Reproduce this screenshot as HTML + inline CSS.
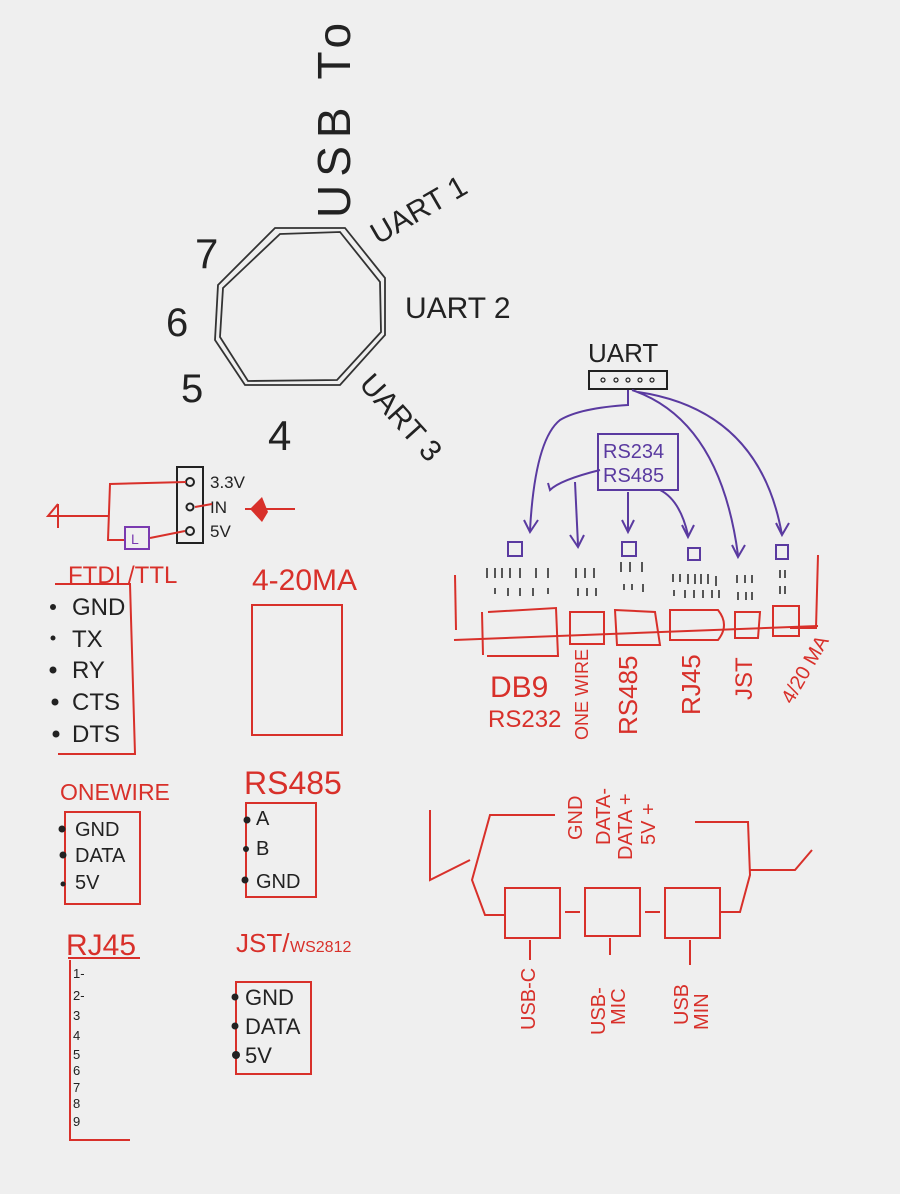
<!DOCTYPE html>
<html><head><meta charset="utf-8"><style>
html,body{margin:0;padding:0;background:#efefef;}
svg{display:block}
text{font-family:"Liberation Sans",sans-serif;}
.k{fill:#222}.r{fill:#d8302a}.p{fill:#5a3aa0}
</style></head><body>
<svg width="900" height="1194" viewBox="0 0 900 1194" xmlns="http://www.w3.org/2000/svg">
<rect width="900" height="1194" fill="#efefef"/>
<g fill="none" stroke="#333" stroke-width="1.8">
<polygon points="275,228 345,228 385,278 385,335 340,385 245,385 215,340 218,285"/>
<polygon points="280,234 340,232 380,282 381,332 337,380 248,381 220,337 223,288"/>
</g>
<text class="k" font-size="46" letter-spacing="8" transform="translate(350,218) rotate(-90)">USB To</text>
<text class="k" font-size="30" transform="translate(378,245) rotate(-30)">UART 1</text>
<text class="k" font-size="30" x="405" y="318">UART 2</text>
<text class="k" font-size="30" transform="translate(358,385) rotate(48)">UART 3</text>
<text class="k" font-size="42" x="195" y="268">7</text>
<text class="k" font-size="40" x="166" y="336">6</text>
<text class="k" font-size="40" x="181" y="402">5</text>
<text class="k" font-size="42" x="268" y="450">4</text>
<rect x="177" y="467" width="26" height="76" fill="none" stroke="#222" stroke-width="2"/>
<g fill="none" stroke="#222" stroke-width="2"><circle cx="190" cy="482" r="4"/><circle cx="190" cy="507" r="3.5"/><circle cx="190" cy="531" r="4"/></g>
<text class="k" font-size="17" x="210" y="488">3.3V</text>
<text class="k" font-size="17" x="210" y="513">IN</text>
<text class="k" font-size="17" x="210" y="537">5V</text>
<g fill="none" stroke="#d8302a" stroke-width="2">
<path d="M186,482 L110,484 L108,540 L125,540"/>
<path d="M108,516 L48,516 L58,504 M58,504 L58,528"/>
<path d="M150,538 L185,531"/>
<path d="M195,507 L212,504"/>
<path d="M245,509 L295,509"/>
</g>
<path d="M250,509 L262,497 L268,512 L262,522 Z" fill="#d8302a"/>
<rect x="125" y="527" width="24" height="22" fill="none" stroke="#7a3ab0" stroke-width="2"/>
<text font-size="14" x="131" y="544" fill="#7a3ab0">L</text>
<text class="r" font-size="24" x="68" y="583">FTDI /TTL</text>
<path d="M55,584 L130,584 L135,754 L58,754" fill="none" stroke="#d8302a" stroke-width="2"/>
<g class="k" font-size="24"><text x="72" y="615">GND</text><text x="72" y="647">TX</text><text x="72" y="678">RY</text><text x="72" y="710">CTS</text><text x="72" y="742">DTS</text></g>
<g fill="#222"><circle cx="53" cy="607" r="3"/><circle cx="53" cy="638" r="2.5"/><circle cx="53" cy="670" r="3.5"/><circle cx="55" cy="702" r="3.5"/><circle cx="56" cy="734" r="3.5"/></g>
<text class="r" font-size="30" x="252" y="590">4-20MA</text>
<path d="M252,605 L342,605 L342,735 L252,735 Z" fill="none" stroke="#d8302a" stroke-width="2"/>
<text class="r" font-size="23" x="60" y="800">ONEWIRE</text>
<rect x="65" y="812" width="75" height="92" fill="none" stroke="#d8302a" stroke-width="2"/>
<g class="k" font-size="20"><text x="75" y="836">GND</text><text x="75" y="862">DATA</text><text x="75" y="889">5V</text></g>
<g fill="#222"><circle cx="62" cy="829" r="3.5"/><circle cx="63" cy="855" r="3.5"/><circle cx="63" cy="884" r="2.5"/></g>
<text class="r" font-size="32" x="244" y="794">RS485</text>
<rect x="246" y="803" width="70" height="94" fill="none" stroke="#d8302a" stroke-width="2"/>
<g class="k" font-size="20"><text x="256" y="825">A</text><text x="256" y="855">B</text><text x="256" y="888">GND</text></g>
<g fill="#222"><circle cx="247" cy="820" r="3.5"/><circle cx="246" cy="849" r="3"/><circle cx="245" cy="880" r="3.5"/></g>
<text class="r" font-size="30" x="66" y="955">RJ45</text>
<path d="M68,958 L140,958 M70,960 L70,1140 L130,1140" fill="none" stroke="#d8302a" stroke-width="2"/>
<g class="k" font-size="13"><text x="73" y="978">1-</text><text x="73" y="1000">2-</text><text x="73" y="1020">3</text><text x="73" y="1040">4</text><text x="73" y="1059">5</text><text x="73" y="1075">6</text><text x="73" y="1092">7</text><text x="73" y="1108">8</text><text x="73" y="1126">9</text></g>
<text class="r" font-size="26" x="236" y="952">JST/</text><text class="r" font-size="16" x="290" y="952">WS2812</text>
<rect x="236" y="982" width="75" height="92" fill="none" stroke="#d8302a" stroke-width="2"/>
<g class="k" font-size="22"><text x="245" y="1005">GND</text><text x="245" y="1034">DATA</text><text x="245" y="1063">5V</text></g>
<g fill="#222"><circle cx="235" cy="997" r="3.5"/><circle cx="235" cy="1026" r="3.5"/><circle cx="236" cy="1055" r="4"/></g>
<text class="k" font-size="26" x="588" y="362">UART</text>
<rect x="589" y="371" width="78" height="18" fill="none" stroke="#222" stroke-width="2"/>
<g fill="none" stroke="#222" stroke-width="1.2"><circle cx="603" cy="380" r="2"/><circle cx="616" cy="380" r="2"/><circle cx="628" cy="380" r="2"/><circle cx="640" cy="380" r="2"/><circle cx="652" cy="380" r="2"/></g>
<g fill="none" stroke="#5a3aa0" stroke-width="2">
<path d="M628,390 L628,405 Q580,408 560,420 Q535,440 530,530"/>
<path d="M600,470 Q560,480 550,490 L548,483"/>
<path d="M575,482 L578,545"/>
<path d="M628,492 L628,530"/>
<path d="M660,490 Q680,500 688,535"/>
<path d="M632,390 Q720,420 738,555"/>
<path d="M638,392 Q760,410 782,535"/>
<path d="M524,520 L530,532 L538,520 M570,535 L578,547 L584,535 M622,520 L628,532 L634,520 M682,525 L688,537 L694,525 M732,545 L738,557 L745,545 M776,523 L782,535 L789,523"/>
<rect x="598" y="434" width="80" height="56"/>
<rect x="508" y="542" width="14" height="14"/>
<rect x="622" y="542" width="14" height="14"/>
<rect x="688" y="548" width="12" height="12"/>
<rect x="776" y="545" width="12" height="14"/>
</g>
<text class="p" font-size="20" x="603" y="458">RS234</text>
<text class="p" font-size="20" x="603" y="482">RS485</text>
<g stroke="#222" stroke-width="1.5">
<path d="M487,568v10M495,568v10M502,568v10M510,568v10M520,568v10M536,568v10M548,568v10 M495,588v6M508,588v8M520,588v8M533,588v8M548,588v6"/>
<path d="M576,568v10M585,568v10M594,568v10M578,588v8M587,588v8M596,588v8"/>
<path d="M621,562v10M630,562v10M642,562v10M624,584v6M632,584v6M643,584v8"/>
<path d="M673,574v8M680,574v8M688,574v10M695,574v10M701,574v10M708,574v10M716,576v10M674,590v6M685,590v8M694,590v8M703,590v8M712,590v8M719,590v8"/>
<path d="M737,575v8M745,575v8M752,575v8M738,592v8M746,592v8M752,592v8"/>
<path d="M780,570v8M785,570v8M780,586v8M785,586v8"/>
</g>
<g fill="none" stroke="#d8302a" stroke-width="2">
<path d="M454,640 L818,626"/>
<path d="M455,575 L456,630"/>
<path d="M818,555 L816,628 L790,628"/>
<path d="M488,612 L556,608 L558,656 L487,656 M482,612 L483,655"/>
<rect x="570" y="612" width="34" height="32"/>
<path d="M615,610 L655,612 L660,645 L617,645 Z"/>
<path d="M670,610 L718,610 Q730,625 718,640 L670,640 Z"/>
<path d="M735,612 L760,612 L758,638 L735,638 Z"/>
<rect x="773" y="606" width="26" height="30"/>
</g>
<text class="r" font-size="30" x="490" y="697">DB9</text>
<text class="r" font-size="24" x="488" y="727">RS232</text>
<text class="r" font-size="18" transform="translate(588,740) rotate(-90)">ONE WIRE</text>
<text class="r" font-size="26" transform="translate(637,735) rotate(-90)">RS485</text>
<text class="r" font-size="26" transform="translate(700,715) rotate(-90)">RJ45</text>
<text class="r" font-size="24" transform="translate(752,700) rotate(-90)">JST</text>
<text class="r" font-size="20" transform="translate(792,705) rotate(-60)">4/20 MA</text>
<g fill="none" stroke="#d8302a" stroke-width="2">
<path d="M430,810 L430,880 L470,860"/>
<path d="M555,815 L490,815 L472,880 L485,915 L505,915"/>
<path d="M695,822 L748,822 L750,875 L740,912 L720,912"/>
<path d="M750,870 L795,870 L812,850"/>
<rect x="505" y="888" width="55" height="50"/>
<rect x="585" y="888" width="55" height="48"/>
<rect x="665" y="888" width="55" height="50"/>
<path d="M565,912 L580,912 M645,912 L660,912 M530,940 L530,960 M610,938 L610,955 M690,940 L690,965"/>
</g>
<g class="r" font-size="20">
<text transform="translate(582,840) rotate(-90)">GND</text>
<text transform="translate(610,845) rotate(-90)">DATA-</text>
<text transform="translate(632,860) rotate(-90)">DATA +</text>
<text transform="translate(655,845) rotate(-90)">5V +</text>
<text transform="translate(535,1030) rotate(-90)">USB-C</text>
<text transform="translate(605,1035) rotate(-90)">USB-</text>
<text transform="translate(625,1025) rotate(-90)">MIC</text>
<text transform="translate(688,1025) rotate(-90)">USB</text>
<text transform="translate(708,1030) rotate(-90)">MIN</text>
</g>
</svg>
</body></html>
